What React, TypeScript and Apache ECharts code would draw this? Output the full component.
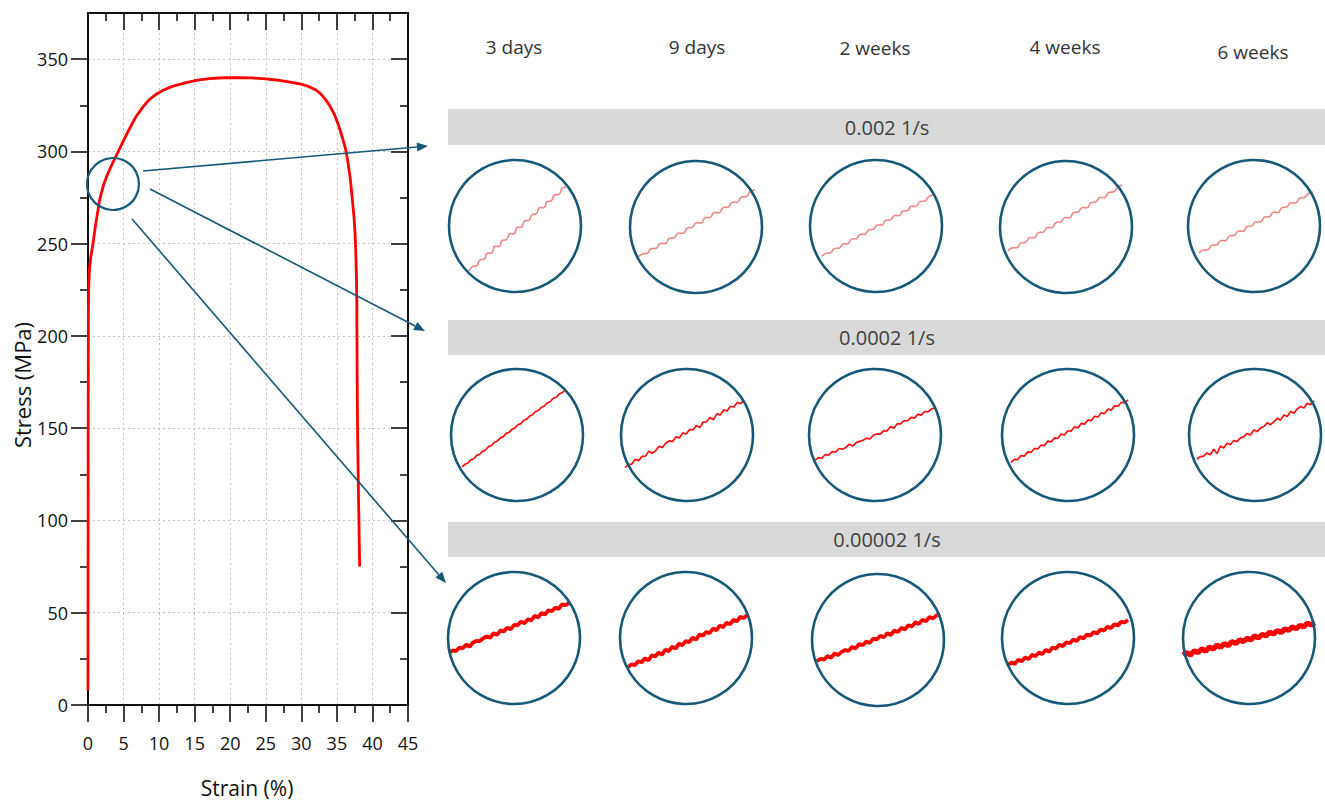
import React, { useEffect, useRef } from "react";
import * as echarts from "echarts";

// ---------- Main stress-strain curve ----------
const strain = [0, 0.03, 0.06, 0.1, 0.2, 0.4, 0.7, 1.1, 1.65, 2.2, 2.8, 3.5, 4.2, 5.0, 5.8, 6.7, 7.7, 8.6, 9.6, 10.5, 11.5, 12.6, 13.8, 15.4, 17.1, 19, 21.3, 23, 24.6, 26.5, 28.4, 30, 31, 32, 32.7, 33.3, 34, 34.7, 35.2, 35.6, 36, 36.3, 36.6, 36.9, 37.15, 37.4, 37.55, 37.65, 37.75, 37.8, 37.82, 37.9, 38.05, 38.1, 38.2];
const stress = [8, 150, 215, 226, 236, 243, 250, 261, 274, 282, 288, 294, 299.5, 306, 312, 318.5, 324, 328, 331, 333, 334.7, 336.1, 337.3, 338.6, 339.4, 339.9, 340, 339.8, 339.4, 338.7, 337.6, 336.4, 335.2, 333.4, 331.3, 328.6, 324.8, 319.6, 314.5, 309.7, 304.5, 300, 293, 284.6, 275, 264.8, 256, 246.7, 232, 219, 200, 150, 110, 100, 75];

const yMajor = [0, 50, 100, 150, 200, 250, 300, 350];
const yMinor = [25, 75, 125, 175, 225, 275, 325];

const ageLabels = ["3 days", "9 days", "2 weeks", "4 weeks", "6 weeks"];
const rateLabels = ["0.002 1/s", "0.0002 1/s", "0.00002 1/s"];

// ---------- Magnified views (stress, MPa) ----------
// strain rate 0.002 1/s
const r1_3d = [263.0, 264.7, 264.9, 267.2, 267.4, 269.8, 269.7, 272.3, 272.2, 274.6, 274.8, 277.1, 277.0, 279.6, 279.5, 282.0, 282.1, 284.4, 284.6, 287.0, 286.9, 289.3, 289.5, 291.8, 291.9, 294.3, 294.8];
const r1_9d = [268.6, 269.8, 270.0, 271.8, 271.9, 273.8, 273.7, 275.7, 275.9, 277.7, 277.6, 279.6, 279.8, 281.6, 281.5, 283.5, 283.6, 285.5, 285.4, 287.4, 287.6, 289.4, 289.3, 291.3, 291.5, 293.4, 294.0];
const r1_2w = [268.6, 269.7, 269.9, 271.5, 271.6, 273.3, 273.2, 275.1, 275.2, 276.9, 276.8, 278.6, 278.8, 280.4, 280.3, 282.2, 282.3, 284.0, 283.9, 285.7, 285.9, 287.5, 287.4, 289.3, 289.4, 291.1, 291.7];
const r1_4w = [270.9, 272.1, 272.2, 274.0, 274.2, 276.0, 275.9, 277.9, 278.0, 279.8, 279.7, 281.7, 281.9, 283.6, 283.5, 285.5, 285.7, 287.4, 287.3, 289.3, 289.5, 291.2, 291.1, 293.1, 293.3, 295.0, 295.9];
const r1_6w = [269.8, 270.9, 271.0, 272.7, 272.8, 274.5, 274.4, 276.3, 276.4, 278.1, 278.0, 279.8, 280.0, 281.6, 281.5, 283.4, 283.5, 285.2, 285.1, 287.0, 287.2, 288.8, 288.7, 290.6, 290.8, 292.3, 292.9];
// strain rate 0.0002 1/s
const r2_3d = [267.9, 268.9, 269.4, 270.6, 271.0, 272.3, 272.7, 273.9, 274.3, 275.6, 276.0, 277.2, 277.7, 278.9, 279.3, 280.6, 281.0, 282.2, 282.7, 283.9, 284.3, 285.6, 286.0, 287.2, 287.7, 288.9, 289.3, 290.5, 291.0, 292.2, 292.6, 293.9, 294.3, 295.5, 296.0, 297.0];
const r2_9d = [267.6, 268.9, 269.0, 270.8, 270.3, 271.9, 272.0, 273.8, 273.1, 274.0, 275.7, 275.3, 276.9, 277.8, 277.5, 279.3, 278.9, 280.8, 280.4, 282.1, 281.9, 283.6, 282.8, 284.9, 285.0, 286.6, 285.8, 288.0, 287.6, 289.5, 289.1, 290.9, 290.6, 292.3, 291.9, 293.3];
const r2_2w = [270.5, 271.4, 271.2, 272.6, 272.4, 273.7, 273.5, 274.9, 274.6, 275.3, 276.5, 275.8, 277.1, 277.6, 278.0, 278.8, 278.5, 279.9, 280.4, 280.3, 281.6, 281.5, 283.2, 282.6, 284.3, 284.2, 285.5, 285.3, 286.7, 286.4, 287.8, 287.5, 288.9, 288.8, 289.9, 290.2];
const r2_4w = [269.6, 270.8, 270.7, 272.2, 272.0, 273.6, 273.4, 274.9, 274.7, 276.2, 276.0, 277.7, 277.4, 278.9, 278.7, 280.4, 280.0, 281.6, 281.5, 283.1, 282.7, 284.4, 284.1, 285.7, 285.4, 287.1, 286.8, 288.4, 288.1, 289.8, 289.4, 291.1, 290.9, 292.4, 292.2, 293.3];
const r2_6w = [270.9, 271.8, 272.0, 273.2, 272.5, 274.6, 273.0, 275.8, 275.1, 276.9, 276.4, 277.9, 277.6, 278.9, 279.3, 280.6, 280.0, 281.9, 281.3, 282.6, 283.2, 284.6, 283.9, 285.0, 286.3, 285.7, 287.6, 287.0, 288.9, 288.2, 289.9, 290.8, 290.2, 292.0, 291.5, 292.9];
// strain rate 0.00002 1/s
const r3_3d = [274.3, 275.3, 275.0, 276.4, 276.1, 277.5, 276.7, 278.3, 278.9, 278.8, 279.9, 280.6, 280.1, 281.8, 281.2, 282.9, 282.5, 283.9, 283.3, 285.0, 284.8, 286.2, 285.6, 287.1, 286.7, 288.4, 287.8, 289.5, 288.9, 290.5, 290.2, 291.5, 291.0, 292.8, 292.4, 293.3];
const r3_9d = [269.0, 270.0, 269.7, 271.2, 270.8, 272.3, 271.5, 273.4, 273.0, 274.5, 273.7, 275.6, 275.0, 276.7, 276.0, 277.9, 277.2, 278.9, 278.4, 280.1, 279.4, 281.3, 280.9, 282.3, 281.8, 283.6, 282.9, 284.7, 284.1, 285.8, 285.2, 286.9, 286.3, 288.0, 287.5, 288.7];
const r3_2w = [272.0, 272.9, 272.6, 273.9, 273.3, 274.9, 274.3, 275.5, 276.2, 275.9, 277.4, 276.8, 278.5, 278.0, 279.4, 278.9, 280.5, 280.2, 281.6, 281.0, 282.6, 281.9, 283.6, 283.0, 284.6, 284.0, 285.6, 285.1, 286.7, 286.1, 287.7, 287.1, 288.7, 288.2, 289.3, 289.8];
const r3_4w = [269.8, 270.7, 270.2, 271.8, 271.2, 272.6, 272.0, 273.6, 273.1, 274.5, 273.9, 275.5, 274.8, 276.4, 276.0, 277.5, 276.9, 278.4, 278.0, 279.4, 278.9, 280.4, 279.8, 281.3, 280.9, 282.3, 281.7, 283.2, 282.8, 284.3, 283.7, 285.2, 284.7, 286.1, 285.9, 286.8];
const r3_6w = [273.6, 274.5, 273.5, 275.2, 274.4, 275.9, 275.0, 276.6, 275.8, 277.3, 276.5, 277.9, 277.1, 278.7, 277.9, 279.3, 278.6, 279.9, 279.3, 280.8, 280.0, 281.4, 280.8, 282.2, 281.5, 282.8, 282.1, 283.4, 282.9, 284.2, 283.5, 284.8, 284.2, 285.6, 285.0, 285.7];

const insetData = [
  [r1_3d, r1_9d, r1_2w, r1_4w, r1_6w],
  [r2_3d, r2_9d, r2_2w, r2_4w, r2_6w],
  [r3_3d, r3_9d, r3_2w, r3_4w, r3_6w],
];

// ---------- Layout (pixels) ----------
const MAIN = { left: 88, top: 13, width: 320, height: 692 };
const FONT = "'Open Sans', 'Noto Sans', sans-serif";
const BLUE = "#175879";
const headerPos = [[514, 47], [697, 47], [875, 48], [1065, 47], [1253, 52]];
const bands = [[109, 36], [320, 35], [522, 35]];
const R = 66;
const circles = [
  [[515, 226], [696, 227], [876, 226], [1066, 227], [1254, 226]],
  [[517, 435], [687, 435], [875, 435], [1068, 435], [1255, 435]],
  [[514, 638], [686, 638], [878, 640], [1068, 638], [1249, 638]],
];
const spans = [
  [[469, 566], [638, 755], [822, 933], [1008, 1122], [1199, 1313]],
  [[462, 565], [625, 744], [815, 935], [1011, 1128], [1197, 1314]],
  [[449, 569], [628, 747], [817, 940], [1008, 1128], [1183, 1315]],
];
const rowStyles = [
  { color: "#ef8585", width: 1.6, smooth: 0.5 },
  { color: "#ff1010", width: 1.7, smooth: false },
  { color: "#ff0000", width: 3.8, smooth: false },
];
const arrows = [
  [143, 171, 428, 146],
  [150, 189, 425, 331],
  [132, 219, 446, 583],
];

function arrowEls(a: number[]) {
  const [x1, y1, x2, y2] = a;
  const dx = x2 - x1, dy = y2 - y1;
  const len = Math.hypot(dx, dy);
  const ux = dx / len, uy = dy / len;
  const bx = x2 - 11 * ux, by = y2 - 11 * uy;
  const nx = -uy * 4.5, ny = ux * 4.5;
  return [
    { type: "line", z: 100, shape: { x1, y1, x2: bx, y2: by }, style: { stroke: BLUE, lineWidth: 1.6 } },
    { type: "polygon", z: 100, shape: { points: [[x2, y2], [bx + nx, by + ny], [bx - nx, by - ny]] }, style: { fill: BLUE } },
  ];
}

export default function App() {
  const ref = useRef<HTMLDivElement>(null);
  useEffect(() => {
    if (!ref.current) return;
    const chart = echarts.init(ref.current, undefined, { renderer: "svg" });
    const axisColor = "#111";

    const grids: any[] = [{ ...MAIN }, { ...MAIN }];
    const xAxes: any[] = [
      {
        gridIndex: 0, type: "value", min: 0, max: 45, interval: 5, position: "bottom",
        axisLine: { show: true, onZero: false, lineStyle: { color: axisColor, width: 2 } },
        axisTick: { show: true, inside: false, length: 17, lineStyle: { color: axisColor, width: 1.6 } },
        minorTick: { show: true, splitNumber: 2, length: 8, lineStyle: { color: axisColor, width: 1.6 } },
        axisLabel: { show: true, margin: 29, fontSize: 18, color: axisColor, fontFamily: FONT },
        splitLine: { show: true, lineStyle: { color: "#c2c2c2", type: [2, 3], width: 1 } },
      },
      {
        gridIndex: 0, type: "value", min: 0, max: 45, interval: 5, position: "top",
        axisLine: { show: true, onZero: false, lineStyle: { color: axisColor, width: 2 } },
        axisTick: { show: true, inside: true, length: 17, lineStyle: { color: axisColor, width: 1.6 } },
        minorTick: { show: true, splitNumber: 2, length: 8, lineStyle: { color: axisColor, width: 1.6 } },
        axisLabel: { show: false },
        splitLine: { show: false },
      },
      { gridIndex: 1, type: "value", min: 0, max: 45, show: false },
    ];
    const yAxes: any[] = [
      {
        gridIndex: 0, type: "value", min: 0, max: 375, interval: 50, position: "left",
        axisLine: { show: true, onZero: false, lineStyle: { color: axisColor, width: 2 } },
        axisTick: { show: true, inside: false, length: 17, customValues: yMajor, lineStyle: { color: axisColor, width: 1.6 } },
        axisLabel: { show: true, margin: 20, fontSize: 18, color: axisColor, fontFamily: FONT, customValues: yMajor },
        splitLine: { show: true, lineStyle: { color: "#c2c2c2", type: [2, 3], width: 1 } },
      },
      {
        gridIndex: 0, type: "value", min: 0, max: 375, interval: 50, position: "right",
        axisLine: { show: true, onZero: false, lineStyle: { color: axisColor, width: 2 } },
        axisTick: { show: true, inside: true, length: 17, customValues: yMajor, lineStyle: { color: axisColor, width: 1.6 } },
        axisLabel: { show: false },
        splitLine: { show: false },
      },
      {
        gridIndex: 1, type: "value", min: 0, max: 375, interval: 50, position: "left",
        axisLine: { show: false },
        axisTick: { show: true, inside: false, length: 8, customValues: yMinor, lineStyle: { color: axisColor, width: 1.6 } },
        axisLabel: { show: false },
        splitLine: { show: false },
      },
      {
        gridIndex: 1, type: "value", min: 0, max: 375, interval: 50, position: "right",
        axisLine: { show: false },
        axisTick: { show: true, inside: true, length: 8, customValues: yMinor, lineStyle: { color: axisColor, width: 1.6 } },
        axisLabel: { show: false },
        splitLine: { show: false },
      },
    ];

    const series: any[] = [
      {
        type: "line", xAxisIndex: 0, yAxisIndex: 0, symbol: "none", smooth: false,
        data: strain.map((s, i) => [s, stress[i]]),
        lineStyle: { color: "#ff0000", width: 2.8, join: "round" },
        z: 5,
      },
    ];

    const graphics: any[] = [];

    insetData.forEach((row, r) => {
      row.forEach((vals, c) => {
        const gi = grids.length;
        const [xs, xe] = spans[r][c];
        const [cx, cy] = circles[r][c];
        grids.push({ left: xs, top: cy - R, width: xe - xs, height: 2 * R });
        const xi = xAxes.length;
        xAxes.push({ gridIndex: gi, type: "category", boundaryGap: false, data: vals.map((_, i) => String(i)), show: false });
        const yi = yAxes.length;
        yAxes.push({ gridIndex: gi, type: "value", min: 255, max: 305, show: false });
        const st = rowStyles[r];
        series.push({
          type: "line", xAxisIndex: xi, yAxisIndex: yi, symbol: "none", smooth: st.smooth,
          data: vals,
          lineStyle: { color: st.color, width: r === 2 && c === 4 ? 5.2 : st.width },
        });
        graphics.push({
          type: "circle", z: 100, shape: { cx, cy, r: R },
          style: { fill: "none", stroke: BLUE, lineWidth: 2.6 },
        });
      });
    });

    ageLabels.forEach((t, i) => {
      graphics.push({
        type: "text", z: 100, x: headerPos[i][0], y: headerPos[i][1],
        style: { text: t, fontSize: 19, fontFamily: FONT, fill: "#333", align: "center", verticalAlign: "middle" },
      });
    });
    rateLabels.forEach((t, i) => {
      const [top, h] = bands[i];
      graphics.push({ type: "rect", z: 1, shape: { x: 448, y: top, width: 877, height: h }, style: { fill: "#d9d9d9" } });
      graphics.push({
        type: "text", z: 100, x: 887, y: top + h / 2,
        style: { text: t, fontSize: 20, fontFamily: FONT, fill: "#404040", align: "center", verticalAlign: "middle" },
      });
    });

    graphics.push({ type: "circle", z: 100, shape: { cx: 113, cy: 184, r: 26 }, style: { fill: "none", stroke: BLUE, lineWidth: 2.2 } });
    arrows.forEach((a) => graphics.push(...arrowEls(a)));

    graphics.push({
      type: "text", z: 100, x: 22, y: 385, rotation: Math.PI / 2,
      style: { text: "Stress (MPa)", fontSize: 22, fontFamily: FONT, fill: "#111", align: "center", verticalAlign: "middle" },
    });
    graphics.push({
      type: "text", z: 100, x: 247, y: 788,
      style: { text: "Strain (%)", fontSize: 21, fontFamily: FONT, fill: "#111", align: "center", verticalAlign: "middle" },
    });

    chart.setOption({
      animation: false,
      backgroundColor: "#ffffff",
      grid: grids,
      xAxis: xAxes,
      yAxis: yAxes,
      series,
      graphic: { elements: graphics },
    });
    return () => chart.dispose();
  }, []);
  return <div ref={ref} style={{ position: "fixed", left: 0, top: 0, width: 1325, height: 804, background: "#fff" }} />;
}
